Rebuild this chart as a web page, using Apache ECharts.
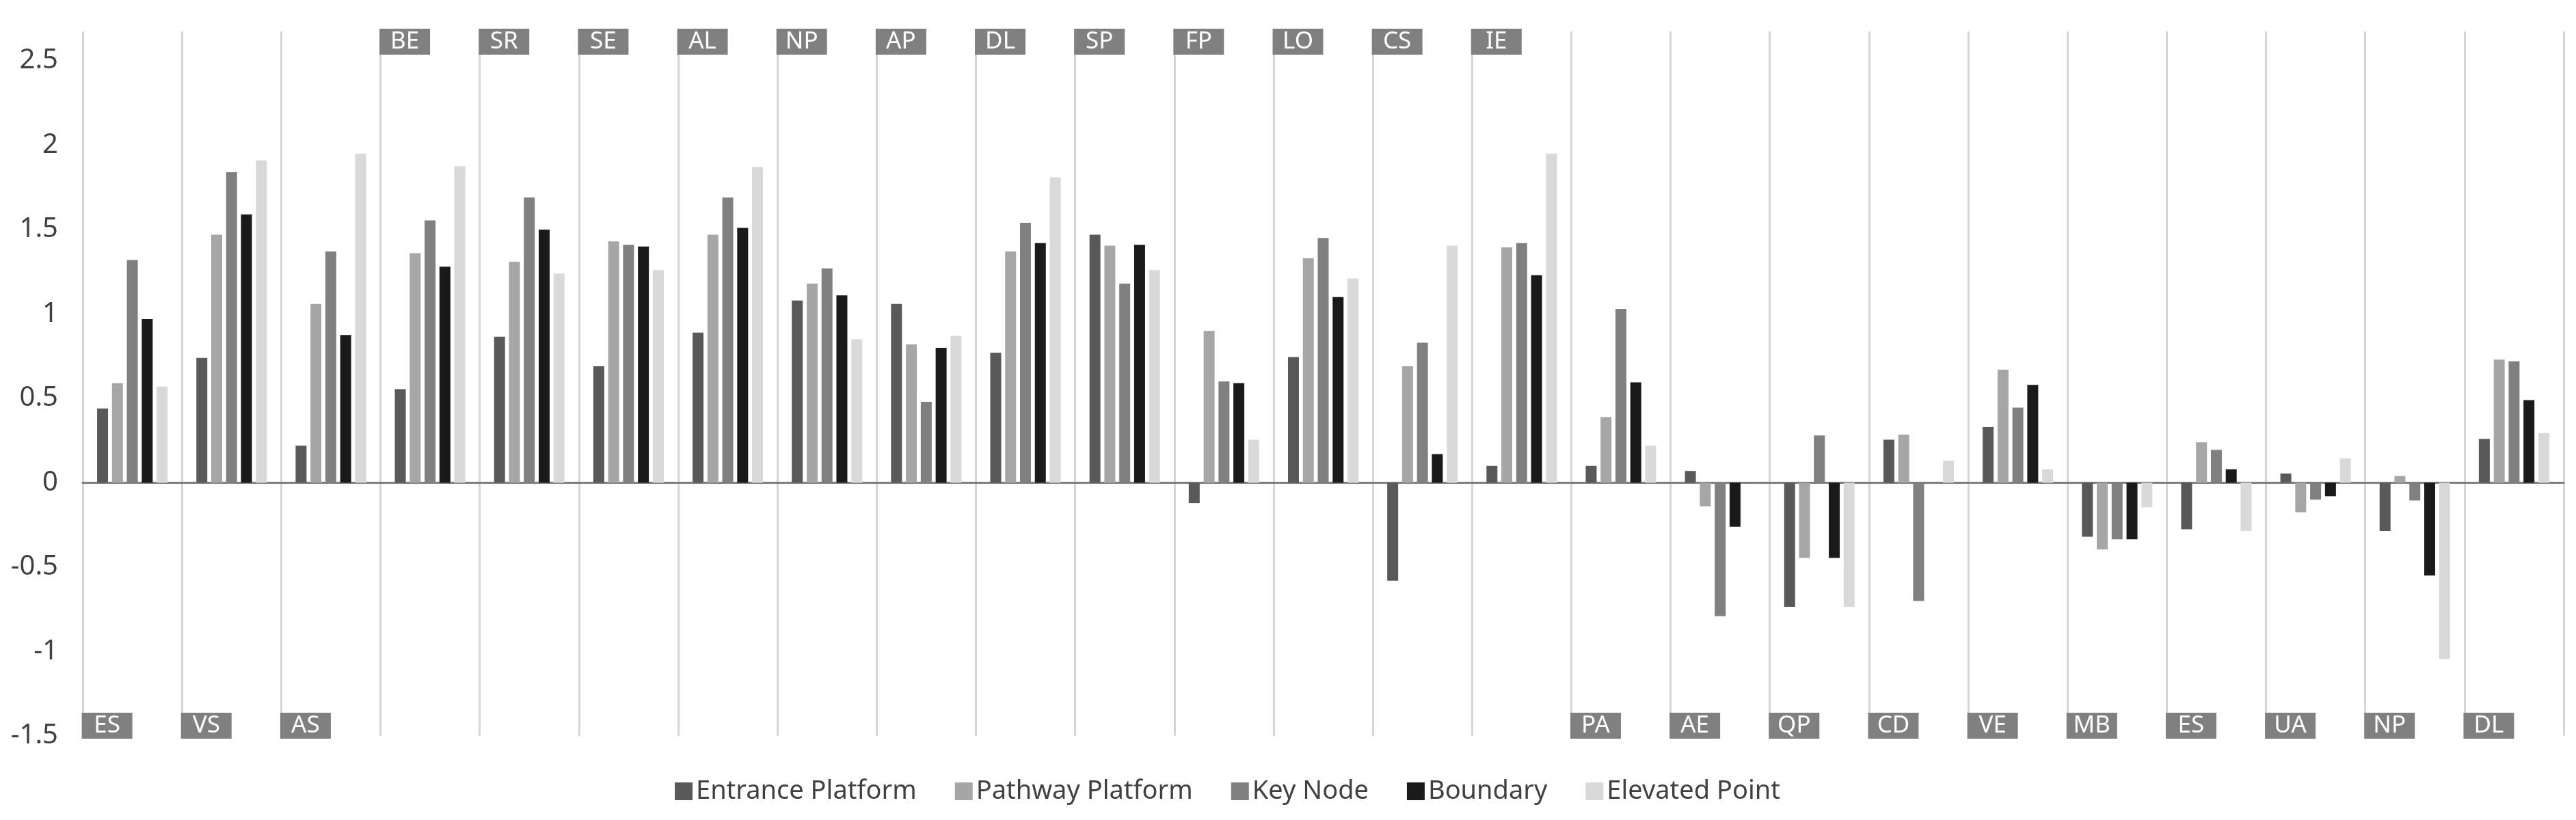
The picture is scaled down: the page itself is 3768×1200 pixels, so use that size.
<!DOCTYPE html>
<html>
<head>
<meta charset="utf-8">
<script src="https://cdn.jsdelivr.net/npm/echarts@6/dist/echarts.min.js"></script>
<style>
html,body{margin:0;padding:0;background:#fff;}
#chart{width:3768px;height:1200px;}
</style>
</head>
<body>
<div id="chart"></div>
<script>
const categories = ['ES','VS','AS','BE','SR','SE','AL','NP','AP','DL','SP','FP','LO','CS','IE','PA','AE','QP','CD','VE','MB','ES','UA','NP','DL'];
const seriesNames = ['Entrance Platform','Pathway Platform','Key Node','Boundary','Elevated Point'];
const entrancePlatform = [0.44,0.74,0.22,0.555,0.865,0.69,0.89,1.08,1.06,0.77,1.47,-0.12,0.745,-0.58,0.10,0.10,0.07,-0.735,0.255,0.33,-0.32,-0.275,0.055,-0.285,0.26];
const pathwayPlatform  = [0.59,1.47,1.06,1.36,1.31,1.43,1.47,1.18,0.82,1.37,1.405,0.90,1.33,0.69,1.395,0.39,-0.14,-0.445,0.285,0.67,-0.395,0.24,-0.175,0.04,0.73];
const keyNode          = [1.32,1.84,1.37,1.555,1.69,1.41,1.69,1.27,0.48,1.54,1.18,0.60,1.45,0.83,1.42,1.03,-0.79,0.28,-0.70,0.445,-0.335,0.195,-0.10,-0.105,0.72];
const boundary         = [0.97,1.59,0.875,1.28,1.50,1.40,1.51,1.11,0.80,1.42,1.41,0.59,1.10,0.17,1.23,0.595,-0.26,-0.445,0,0.58,-0.335,0.08,-0.08,-0.55,0.49];
const elevatedPoint    = [0.57,1.91,1.95,1.875,1.24,1.26,1.87,0.85,0.87,1.81,1.26,0.255,1.21,1.405,1.95,0.22,0,-0.735,0.13,0.08,-0.145,-0.285,0.145,-1.045,0.295];
const yTicks = [-1.5,-1,-0.5,0,0.5,1,1.5,2,2.5];
// categories whose tag sits at the top of the plot (by index range)
const topTagFirst = 3, topTagLast = 14;

const seriesValues = [entrancePlatform, pathwayPlatform, keyNode, boundary, elevatedPoint];
const colors = ['#595959','#a6a6a6','#808080','#1a1a1a','#d9d9d9'];
const FONT = 'Noto Sans';

const tagRich = {
  t: {backgroundColor:'#808080', color:'#ffffff', fontSize:35, fontFamily:FONT,
      width:66, height:38, lineHeight:38, align:'center', padding:[0,4,0,4]}
};

const chart = echarts.init(document.getElementById('chart'), null, {renderer:'canvas'});
chart.setOption({
  animation:false,
  backgroundColor:'#ffffff',
  color: colors,
  grid:{left:121, right:18, top:46, bottom:123, containLabel:false},
  legend:{
    data: seriesNames, left:982, top:1134, icon:'rect', itemWidth:26, itemHeight:26, itemGap:56,
    textStyle:{fontSize:38, fontFamily:FONT, color:'#404040'}
  },
  xAxis:[
    {type:'category', data:categories, position:'bottom',
     axisLine:{show:true, onZero:true, lineStyle:{color:'#7f7f7f', width:3}},
     axisTick:{show:false}, axisLabel:{show:false},
     splitLine:{show:true, interval:0, lineStyle:{color:'#d6d6d6', width:3}}},
    {type:'category', data:categories, position:'top',
     axisLine:{show:false, onZero:false}, axisTick:{show:false}, splitLine:{show:false},
     axisLabel:{show:true, inside:true, interval:0, margin:-4, align:'right',
       formatter:(v, i) => (i >= topTagFirst && i <= topTagLast) ? '{t|' + v + '}' : '',
       rich: tagRich}},
    {type:'category', data:categories, position:'bottom',
     axisLine:{show:false, onZero:false}, axisTick:{show:false}, splitLine:{show:false},
     axisLabel:{show:true, inside:true, interval:0, margin:-4, align:'right',
       formatter:(v, i) => (i < topTagFirst || i > topTagLast) ? '{t|' + v + '}' : '',
       rich: tagRich}}
  ],
  yAxis:{
    type:'value', min:-1.5, max:2.674, interval:0.5,
    axisLine:{show:false}, axisTick:{show:false}, splitLine:{show:false},
    axisLabel:{fontSize:40, fontFamily:FONT, color:'#404040', margin:36,
      formatter:(v) => yTicks.some(t => Math.abs(t - v) < 1e-6) ? String(Math.round(v*10)/10) : ''}
  },
  series: seriesNames.map((name, k) => ({
    name, type:'bar', xAxisIndex:0, data: seriesValues[k],
    barWidth:16, barGap:'36%',
    itemStyle:{color: colors[k]}
  }))
});
</script>
</body>
</html>
